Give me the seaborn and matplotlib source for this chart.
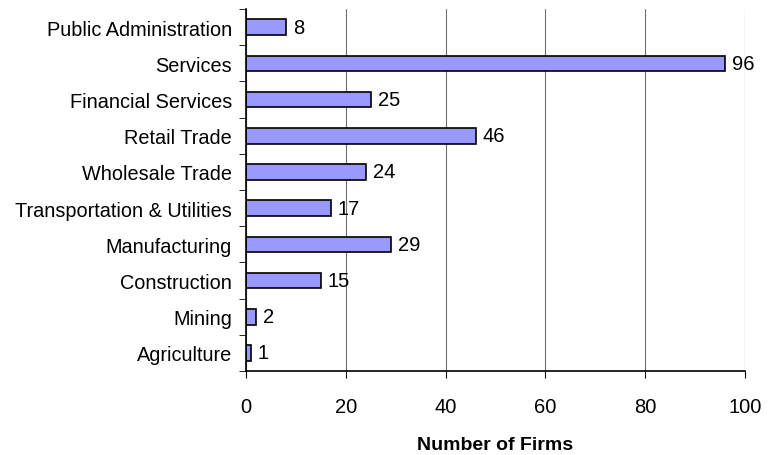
import pandas as pd
import seaborn as sns
import matplotlib.pyplot as plt

# Industry categories and firm counts (top to bottom as shown)
industries = ['Public Administration', 'Services', 'Financial Services', 'Retail Trade',
              'Wholesale Trade', 'Transportation & Utilities', 'Manufacturing',
              'Construction', 'Mining', 'Agriculture']
firms = [8, 96, 25, 46, 24, 17, 29, 15, 2, 1]
xticks = [0, 20, 40, 60, 80, 100]

df = pd.DataFrame({'industry': industries, 'firms': firms})

sns.set_style('white')
plt.rcParams['font.family'] = ['Liberation Sans', 'DejaVu Sans']
plt.rcParams['text.color'] = 'black'
plt.rcParams['xtick.color'] = 'black'
plt.rcParams['ytick.color'] = 'black'
plt.rcParams['axes.labelcolor'] = 'black'

fig = plt.figure(figsize=(7.73, 4.56), dpi=100)
ax = fig.add_axes([0.318, 0.184, 0.646, 0.794])

sns.barplot(data=df, x='firms', y='industry', orient='h', color='#9999FF',
            edgecolor='black', linewidth=1.2, width=0.43, saturation=1, ax=ax)

for p, v in zip(ax.patches, firms):
    ax.text(p.get_width() + 1.4, p.get_y() + p.get_height() / 2, str(v),
            va='center', ha='left', fontsize=14.5)

ax.set_xlim(0, 100)
ax.set_ylim(len(industries) - 0.5, -0.5)
ax.set_xticks(xticks)
ax.xaxis.grid(True, color='#707070', linewidth=0.8)
ax.set_axisbelow(True)

# y ticks sit between categories
ax.set_yticks([i - 0.5 for i in range(len(industries) + 1)], minor=True)
ax.tick_params(axis='y', which='major', length=0, labelsize=14.3, pad=10)
ax.tick_params(axis='y', which='minor', length=5, color='black', direction='out', left=True)
ax.tick_params(axis='x', length=5, color='black', direction='out', bottom=True,
               labelsize=14.5, pad=14)

for s in ['top', 'right']:
    ax.spines[s].set_visible(False)
for s in ['left', 'bottom']:
    ax.spines[s].set_color('black')
    ax.spines[s].set_linewidth(1.2)

ax.set_ylabel('')
ax.set_xlabel('Number of Firms', fontsize=14, fontweight='bold', labelpad=14)

plt.savefig('out.png', dpi=100)
